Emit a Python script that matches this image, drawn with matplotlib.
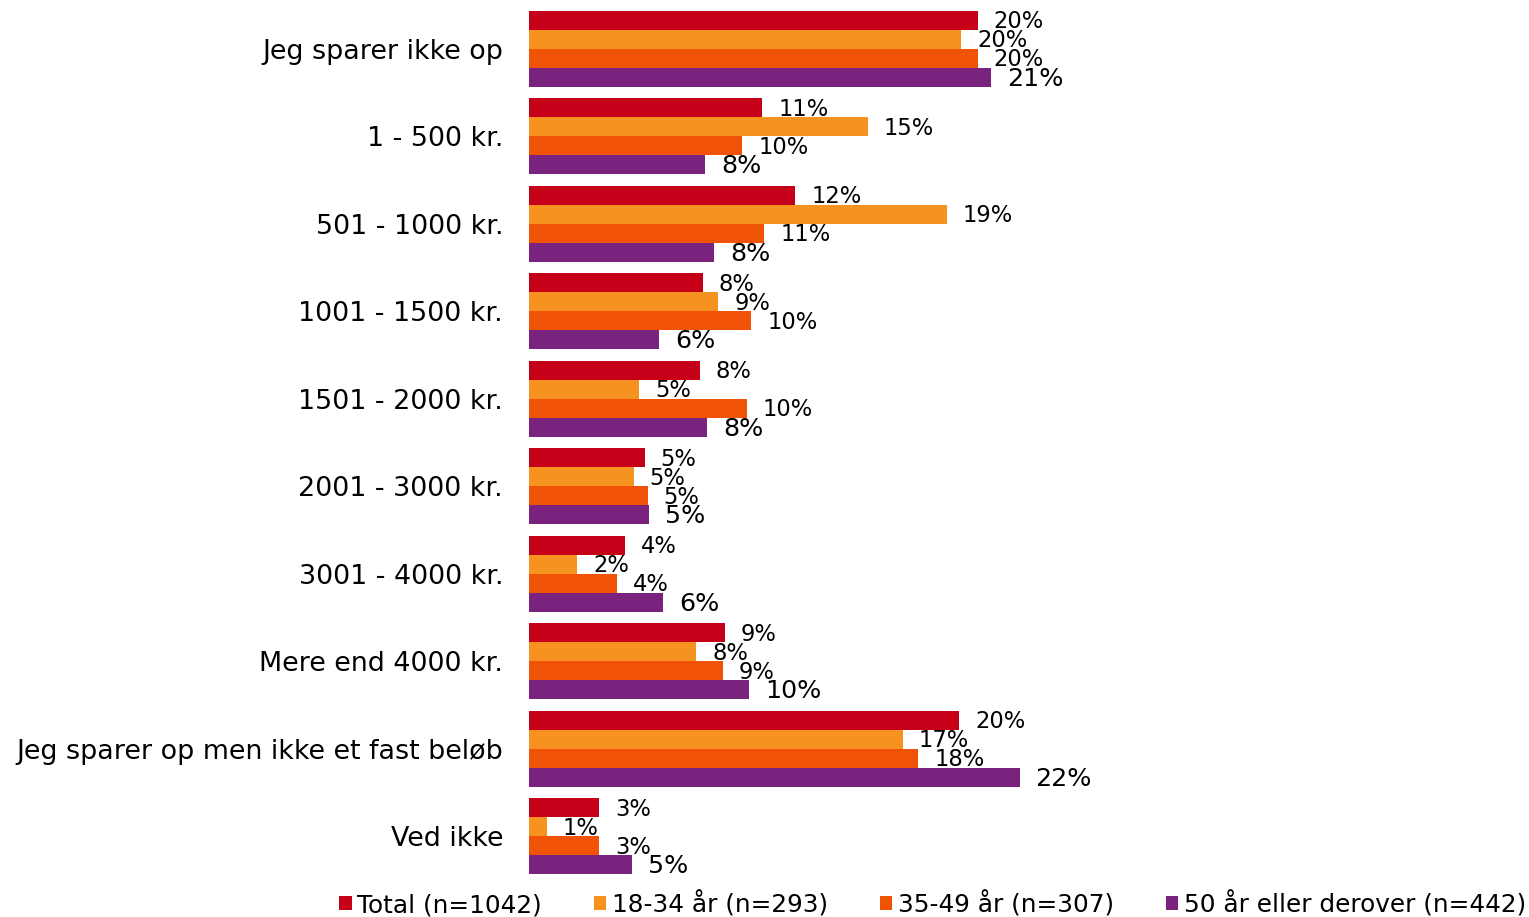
import matplotlib
matplotlib.use("Agg")
import matplotlib.pyplot as plt
import numpy as np
from matplotlib.patches import Patch

categories = ["Jeg sparer ikke op", "1 - 500 kr.", "501 - 1000 kr.", "1001 - 1500 kr.",
              "1501 - 2000 kr.", "2001 - 3000 kr.", "3001 - 4000 kr.", "Mere end 4000 kr.",
              "Jeg sparer op men ikke et fast beløb", "Ved ikke"]
series_names = ["Total (n=1042)", "18-34 år (n=293)", "35-49 år (n=307)", "50 år eller derover (n=442)"]
total = [20.4, 10.6, 12.1, 7.9, 7.75, 5.25, 4.36, 8.9, 19.55, 3.2]
age_18_34 = [19.65, 15.4, 19.0, 8.6, 5.0, 4.76, 2.2, 7.6, 17.0, 0.8]
age_35_49 = [20.4, 9.7, 10.7, 10.1, 9.9, 5.4, 4.0, 8.8, 17.7, 3.2]
age_50_plus = [21.0, 8.0, 8.4, 5.9, 8.1, 5.45, 6.1, 10.0, 22.3, 4.7]
colors = ["#C50018", "#F59220", "#F05206", "#7A237E"]

series = [total, age_18_34, age_35_49, age_50_plus]
label_sizes = [16.3, 16.3, 16.3, 18.3]

W, H = 1529, 917
fig = plt.figure(figsize=(W / 100, H / 100), dpi=100)
ax = fig.add_axes([529 / W, 1 - 880 / H, 990 / W, 875 / H])

y = np.arange(len(categories))
h = 0.2175
for i, (vals, col) in enumerate(zip(series, colors)):
    pos = y + (i - 1.5) * h
    ax.barh(pos, vals, height=h, color=col, label=series_names[i])
    for p, v in zip(pos, vals):
        ax.annotate(f"{round(v):d}%", xy=(v, p), xytext=(11.5, -1), textcoords="offset points",
                    ha="left", va="center", fontsize=label_sizes[i], color="#000000")

ax.set_xlim(0, 45)
ax.set_ylim(len(categories) - 0.5, -0.5)
ax.set_yticks(y)
ax.set_yticklabels(categories, fontsize=19.4)
ax.tick_params(axis="y", length=0, pad=18.7)
ax.set_xticks([])
for s in ax.spines.values():
    s.set_visible(False)

handles = [Patch(facecolor=c, label=n) for c, n in zip(colors, series_names)]
fig.legend(handles=handles, loc="center", bbox_to_anchor=(933 / W, 1 - 904 / H), ncol=4,
           frameon=False, fontsize=17.8, handlelength=0.49, handleheight=0.49,
           handletextpad=0.24, columnspacing=2.1, borderaxespad=0, borderpad=0)

fig.savefig("out.png", dpi=100)
